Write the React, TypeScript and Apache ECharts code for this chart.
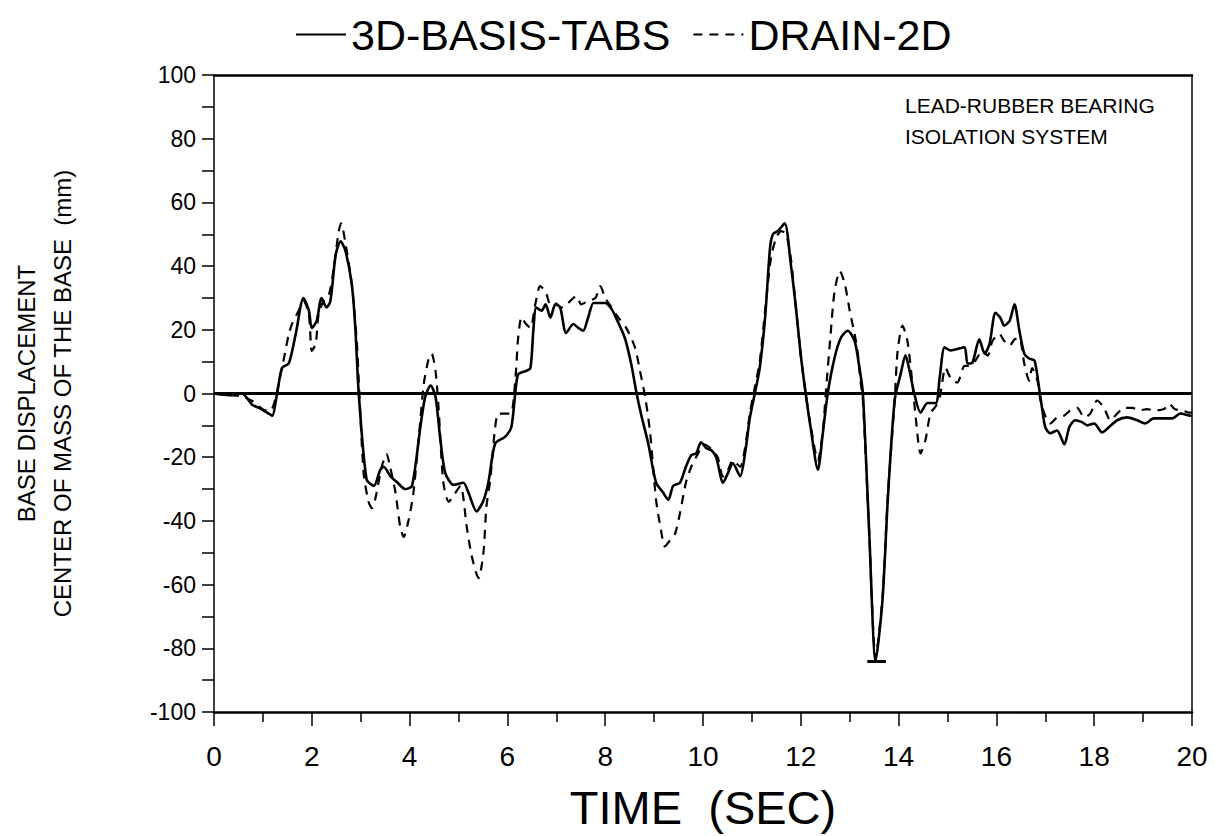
import React, { useEffect, useRef } from "react";
import * as echarts from "echarts";

// 3D-BASIS-TABS (solid)
const tabsTime = [
  0, 0.3, 0.57, 0.78, 0.92, 1.12, 1.19, 1.29, 1.39, 1.53, 1.67, 1.83, 1.94, 2.0, 2.1, 2.2, 2.3, 2.38, 2.49, 2.59,
  2.69, 2.82, 2.89, 2.96, 3.12, 3.27, 3.4, 3.47, 3.61, 3.74, 3.91, 4.05, 4.22, 4.32, 4.43, 4.53, 4.63, 4.73, 4.9, 5.1,
  5.2, 5.37, 5.5, 5.61, 5.75, 5.95, 6.08, 6.16, 6.22, 6.37, 6.47, 6.53, 6.59, 6.7, 6.78, 6.88, 6.98, 7.08, 7.2, 7.35,
  7.45, 7.55, 7.65, 7.76, 7.86, 8.0, 8.13, 8.22, 8.4, 8.53, 8.63, 8.73, 8.88, 9.04, 9.18, 9.29, 9.39, 9.53, 9.65, 9.76,
  9.86, 9.96, 10.07, 10.17, 10.27, 10.41, 10.51, 10.61, 10.76, 10.86, 10.96, 11.06, 11.16, 11.27, 11.37, 11.43, 11.53, 11.67, 11.8, 11.9,
  12.0, 12.1, 12.2, 12.35, 12.45, 12.55, 12.69, 12.82, 12.96, 13.1, 13.2, 13.27, 13.4, 13.53, 13.67, 13.78, 13.92, 14.04, 14.14, 14.24,
  14.32, 14.45, 14.59, 14.76, 14.84, 14.94, 15.06, 15.2, 15.35, 15.41, 15.51, 15.65, 15.76, 15.86, 15.98, 16.08, 16.16, 16.27, 16.37, 16.47,
  16.57, 16.67, 16.78, 16.88, 16.94, 17.0, 17.1, 17.24, 17.39, 17.49, 17.61, 17.75, 17.86, 18.0, 18.16, 18.3, 18.47, 18.67, 18.88, 19.04,
  19.22, 19.43, 19.6, 19.76, 19.94, 20,
];
const tabsDisp = [
  0, -0.5, 0, -3.5, -4.5, -6.3, -7, 0, 8, 9.5, 18.6, 30, 26, 20.6, 22.8, 30, 27, 29, 43.7, 47.8,
  44.7, 34, 20.6, 0, -27, -29, -24, -23, -26, -27.8, -30, -29, -10.5, -1, 2.5, -1, -14.6, -25, -28.7, -28,
  -31, -37, -34, -28, -15.7, -13.6, -10.6, 0, 6, 7, 8, 19.7, 27, 26, 28, 23.8, 28, 27, 19, 21.8,
  20.6, 19.7, 23.8, 28.4, 28.4, 28.4, 26.5, 23.8, 17.5, 9.4, 1, -6.3, -15.7, -28, -31, -33.4, -29, -28, -23, -19.4,
  -18.8, -15.3, -17.2, -17.8, -20, -28, -25, -21.9, -26, -18.8, -7.5, 0, 8, 23.8, 45.6, 50, 51, 53.4, 40, 27,
  12, 0, -10.6, -24, -12.5, 0, 11.2, 17.5, 19.7, 16.5, 8, 0, -44, -84, -65, -33, -2, 6, 12, 6,
  0, -6, -3, -3, 5, 14.5, 13.5, 14, 14.5, 9.4, 9.7, 17, 12.5, 15.6, 25.3, 23.8, 21.3, 22.8, 28, 19.7,
  12.5, 11, 10.3, 1, -5.3, -10.6, -12.5, -11.6, -16, -10.6, -8.4, -9, -10, -9.4, -12.2, -10.6, -8.4, -7.5, -8.4, -9.4,
  -7.8, -7.8, -7.8, -6.3, -6.9, -7,
];

// DRAIN-2D (dashed)
const drainTime = [
  0, 0.3, 0.6, 0.8, 1.0, 1.15, 1.25, 1.35, 1.43, 1.53, 1.6, 1.73, 1.83, 1.94, 2.0, 2.08, 2.14, 2.24, 2.35, 2.45,
  2.55, 2.6, 2.69, 2.82, 2.92, 2.96, 3.06, 3.16, 3.23, 3.3, 3.43, 3.53, 3.6, 3.71, 3.81, 3.88, 3.98, 4.08, 4.22, 4.29,
  4.39, 4.45, 4.53, 4.59, 4.69, 4.8, 4.9, 5.04, 5.17, 5.27, 5.41, 5.51, 5.57, 5.65, 5.75, 5.82, 6.06, 6.16, 6.22, 6.29,
  6.37, 6.47, 6.57, 6.67, 6.78, 6.88, 6.98, 7.1, 7.24, 7.41, 7.51, 7.65, 7.8, 7.9, 8.0, 8.13, 8.27, 8.43, 8.61, 8.71,
  8.82, 8.92, 9.04, 9.14, 9.22, 9.33, 9.43, 9.53, 9.65, 9.76, 9.9, 10.0, 10.1, 10.2, 10.3, 10.41, 10.51, 10.61, 10.76, 10.86,
  10.96, 11.06, 11.16, 11.27, 11.39, 11.5, 11.6, 11.7, 11.8, 11.9, 12.0, 12.1, 12.2, 12.35, 12.45, 12.51, 12.61, 12.69, 12.8, 12.9,
  13.0, 13.1, 13.16, 13.22, 13.27, 13.4, 13.53, 13.67, 13.78, 13.92, 13.98, 14.08, 14.18, 14.29, 14.35, 14.45, 14.55, 14.65, 14.76, 14.84,
  14.96, 15.06, 15.2, 15.35, 15.45, 15.57, 15.71, 15.82, 15.92, 16.06, 16.16, 16.27, 16.37, 16.47, 16.57, 16.67, 16.73, 16.84, 16.9, 16.98,
  17.1, 17.24, 17.39, 17.51, 17.65, 17.8, 17.92, 18.06, 18.2, 18.33, 18.47, 18.61, 18.78, 18.92, 19.08, 19.24, 19.43, 19.53, 19.65, 19.8,
  19.94, 20,
];
const drainDisp = [
  0, -0.5, -1, -2.5, -5, -5.5, -2, 5, 11, 18.7, 22, 26, 29, 25, 13.4, 15.6, 25, 29, 31, 39.4,
  51, 53.4, 47, 34, 16.5, 4, -25, -34, -36, -33, -23, -19, -23, -31, -42, -45, -39.7, -31, -8.4, 3,
  11, 12.5, 7, -4, -28, -34, -32, -29, -42, -51, -58, -50, -35.6, -27, -10.6, -6.3, -6.3, 4, 17.5, 24,
  22, 20.6, 28, 33.7, 32, 28, 28.4, 27, 28.4, 30.6, 28, 29, 30, 33.7, 30, 27, 23.8, 20.6, 14.4, 7.2,
  -1.3, -12.5, -33.4, -42.8, -48, -46, -44, -37.5, -28, -23, -18.8, -16, -16.5, -18, -20, -26, -24, -21, -23, -17,
  -6, 2, 10, 26, 42.6, 49, 51, 50, 42, 27, 12, 0, -10, -21, -12, 0, 18.7, 32, 38.4, 34.4,
  26, 18.7, 13.4, 4, -2, -44, -83, -64, -32, -2, 13.4, 21.3, 16.5, 2, -7.5, -18.8, -14.6, -6.3, -4, -1.3,
  8.1, 5, 3.4, 8.7, 8.7, 10.3, 13.4, 11.9, 16.5, 18.7, 16.5, 15, 17, 17.5, 9.4, 4, 8, 4, -2, -6.3,
  -9.4, -7.5, -6.9, -5.3, -4.5, -7.5, -6.3, -2.2, -4.5, -8.4, -6.3, -4.5, -4.5, -5.3, -4.9, -5.3, -4.9, -3.2, -4.9, -5.3,
  -6, -6,
];

// short horizontal bar drawn at the deepest trough of the solid curve: [tStart, tEnd, value]
const troughBar = [13.36, 13.74, -84];

const seriesNames = ["3D-BASIS-TABS", "DRAIN-2D"];
const noteLines = ["LEAD-RUBBER BEARING", "ISOLATION SYSTEM"];
const xTitle = "TIME  (SEC)";
const yTitleLines = ["BASE DISPLACEMENT", "CENTER OF MASS OF THE BASE  (mm)"];

const FONT = "'Liberation Sans', Arial, sans-serif";

export default function App() {
  const ref = useRef<HTMLDivElement>(null);
  useEffect(() => {
    if (!ref.current) return;
    const chart = echarts.init(ref.current, undefined, { renderer: "svg" });
    const tabsData = tabsTime.map((t, i) => [t, tabsDisp[i]]);
    const drainData = drainTime.map((t, i) => [t, drainDisp[i]]);
    chart.setOption({
      animation: false,
      backgroundColor: "#ffffff",
      textStyle: { fontFamily: FONT, color: "#000" },
      legend: {
        top: 8,
        left: 290,
        itemWidth: 50,
        itemHeight: 14,
        itemGap: 22,
        itemStyle: { opacity: 0, borderWidth: 0 },
        textStyle: { fontSize: 43, color: "#000", fontFamily: FONT },
        data: seriesNames,
      },
      grid: { left: 210, right: 23, top: 75, bottom: 119 },
      xAxis: [
        {
          type: "value",
          min: 0,
          max: 20,
          interval: 2,
          position: "bottom",
          axisLine: { show: true, onZero: false, lineStyle: { color: "#000", width: 2.5 } },
          axisTick: { show: true, inside: false, length: 14, lineStyle: { color: "#000", width: 1.5 } },
          minorTick: { show: true, splitNumber: 2, length: 10, lineStyle: { color: "#000", width: 1.5 } },
          axisLabel: { fontSize: 28, color: "#000", margin: 30, fontFamily: FONT },
          splitLine: { show: false },
          minorSplitLine: { show: false },
          name: xTitle,
          nameLocation: "middle",
          nameGap: 72,
          nameTextStyle: { fontSize: 47, color: "#000", fontFamily: FONT },
        },
        {
          type: "value",
          min: 0,
          max: 20,
          position: "top",
          axisLine: { show: true, onZero: false, lineStyle: { color: "#000", width: 2.5 } },
          axisTick: { show: false },
          axisLabel: { show: false },
          splitLine: { show: false },
        },
      ],
      yAxis: [
        {
          type: "value",
          min: -100,
          max: 100,
          interval: 20,
          position: "left",
          axisLine: { show: true, onZero: false, lineStyle: { color: "#000", width: 1.5 } },
          axisTick: { show: true, inside: false, length: 12, lineStyle: { color: "#000", width: 1.5 } },
          minorTick: { show: true, splitNumber: 2, length: 12, lineStyle: { color: "#000", width: 1.5 } },
          axisLabel: { fontSize: 23, color: "#000", margin: 18, fontFamily: FONT },
          splitLine: { show: false },
          name: yTitleLines.join("\n"),
          nameLocation: "middle",
          nameRotate: 90,
          nameGap: 134,
          nameTextStyle: { fontSize: 24, color: "#000", lineHeight: 36, fontFamily: FONT, align: "center" },
        },
        {
          type: "value",
          min: -100,
          max: 100,
          position: "right",
          axisLine: { show: true, onZero: false, lineStyle: { color: "#000", width: 1.5 } },
          axisTick: { show: false },
          axisLabel: { show: false },
          splitLine: { show: false },
        },
      ],
      graphic: [
        {
          type: "text",
          left: 905,
          top: 90,
          style: {
            text: noteLines.join("\n"),
            fontSize: 21,
            lineHeight: 31,
            fill: "#000",
            fontFamily: FONT,
          },
        },
      ],
      series: [
        {
          name: seriesNames[0],
          type: "line",
          xAxisIndex: 0,
          yAxisIndex: 0,
          data: tabsData,
          showSymbol: false,
          symbol: "none",
          smooth: 0.25,
          lineStyle: { color: "#000", width: 2.6, type: "solid" },
          itemStyle: { color: "#000" },
          markLine: {
            silent: true,
            symbol: ["none", "none"],
            label: { show: false },
            lineStyle: { color: "#000", width: 3, type: "solid" },
            data: [
              { yAxis: 0 },
              [
                { coord: [troughBar[0], troughBar[2]] },
                { coord: [troughBar[1], troughBar[2]] },
              ],
            ],
          },
          z: 3,
        },
        {
          name: seriesNames[1],
          type: "line",
          xAxisIndex: 0,
          yAxisIndex: 0,
          data: drainData,
          showSymbol: false,
          symbol: "none",
          smooth: 0.25,
          lineStyle: { color: "#000", width: 2.2, type: [9, 7] },
          itemStyle: { color: "#000" },
          z: 2,
        },
      ],
    });
    return () => chart.dispose();
  }, []);
  return <div ref={ref} style={{ width: 1215, height: 836, position: "absolute", left: 0, top: 0 }} />;
}
